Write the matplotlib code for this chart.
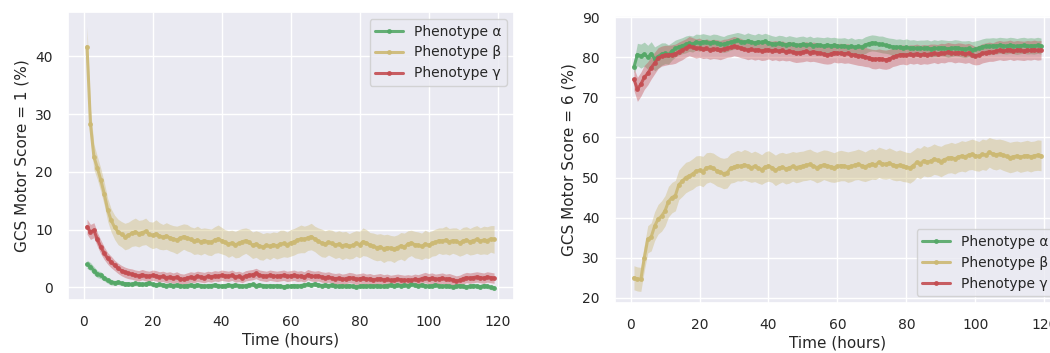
import numpy as np
import matplotlib
matplotlib.use('Agg')
import matplotlib.pyplot as plt
import seaborn as sns

hours = list(range(1, 120))
labels = ['Phenotype α', 'Phenotype β', 'Phenotype γ']
colors = ['#55a868', '#ccb974', '#c44e52']

# GCS motor score = 1, mean per hour
alpha_m1 = [4.0, 3.6, 2.9, 2.3, 2.1, 1.6, 1.2, 0.9, 0.8, 0.9, 0.7, 0.6,
            0.6, 0.5, 0.7, 0.6, 0.5, 0.6, 0.8, 0.5, 0.4, 0.5, 0.4, 0.3,
            0.4, 0.3, 0.4, 0.3, 0.2, 0.3, 0.4, 0.3, 0.4, 0.3, 0.2, 0.3,
            0.3, 0.4, 0.3, 0.2, 0.3, 0.4, 0.3, 0.4, 0.3, 0.2, 0.3, 0.4,
            0.5, 0.3, 0.4, 0.3, 0.2, 0.3, 0.2, 0.3, 0.2, 0.1, 0.2, 0.2,
            0.3, 0.2, 0.3, 0.4, 0.5, 0.4, 0.6, 0.4, 0.3, 0.4, 0.3, 0.4,
            0.3, 0.2, 0.3, 0.2, 0.3, 0.2, 0.1, 0.2, 0.3, 0.2, 0.3, 0.2,
            0.3, 0.2, 0.2, 0.3, 0.4, 0.3, 0.4, 0.3, 0.4, 0.3, 0.5, 0.4,
            0.3, 0.4, 0.3, 0.2, 0.3, 0.4, 0.3, 0.2, 0.3, 0.2, 0.1, 0.2,
            0.3, 0.2, 0.1, 0.2, 0.3, 0.2, 0.1, 0.3, 0.2, 0.0, -0.1]
beta_m1 = [41.7, 28.3, 22.6, 20.7, 18.6, 16.2, 13.4, 11.6, 10.4, 9.6, 9.2, 8.8,
           9.0, 9.4, 9.6, 9.3, 9.5, 9.7, 9.2, 9.0, 9.3, 8.9, 8.7, 8.9,
           8.6, 8.4, 8.2, 8.5, 8.8, 8.6, 8.3, 8.0, 8.2, 7.9, 8.1, 7.9,
           7.8, 8.2, 8.4, 8.1, 7.8, 7.5, 7.7, 7.4, 7.6, 7.9, 8.1, 7.8,
           7.3, 7.5, 7.2, 7.0, 7.3, 7.1, 7.4, 7.2, 7.5, 7.6, 7.4, 7.7,
           7.9, 8.2, 8.4, 8.3, 8.6, 8.8, 8.4, 8.0, 7.7, 7.5, 7.8, 7.6,
           7.3, 7.5, 7.2, 7.4, 7.1, 7.3, 7.6, 7.4, 7.9, 7.7, 7.3, 7.1,
           6.9, 7.0, 6.7, 6.9, 6.8, 6.6, 6.9, 7.2, 7.0, 7.5, 7.7, 7.4,
           7.3, 7.1, 7.5, 7.3, 7.6, 7.8, 8.1, 8.0, 8.2, 7.9, 8.1, 8.0,
           7.7, 8.0, 8.2, 7.9, 8.1, 8.3, 8.0, 8.2, 8.1, 8.4, 8.3]
gamma_m1 = [10.5, 9.6, 9.9, 8.3, 7.0, 5.9, 5.0, 4.4, 3.8, 3.3, 2.9, 2.6,
            2.4, 2.3, 2.1, 2.0, 2.2, 2.0, 1.9, 2.1, 2.0, 1.8, 1.9, 1.7,
            1.8, 1.6, 1.8, 1.5, 1.4, 1.6, 1.8, 1.7, 1.9, 1.8, 1.7, 1.9,
            1.8, 2.0, 1.9, 2.1, 2.0, 1.9, 2.1, 1.8, 1.9, 1.7, 2.0, 2.1,
            2.2, 2.4, 2.1, 2.0, 1.9, 2.1, 2.0, 1.9, 2.0, 2.1, 1.9, 2.0,
            2.1, 1.9, 2.0, 1.8, 2.2, 2.0, 1.9, 2.0, 1.8, 1.7, 1.8, 1.6,
            1.5, 1.6, 1.4, 1.5, 1.7, 1.6, 1.4, 1.5, 1.6, 1.4, 1.5, 1.3,
            1.4, 1.5, 1.3, 1.4, 1.2, 1.3, 1.4, 1.3, 1.2, 1.3, 1.2, 1.4,
            1.3, 1.5, 1.7, 1.5, 1.6, 1.4, 1.5, 1.6, 1.4, 1.5, 1.3, 1.1,
            1.2, 1.5, 1.7, 1.6, 1.7, 1.8, 1.7, 1.6, 1.8, 1.7, 1.6]

# half width of the shaded band, score = 1
alpha_e1 = [0.7, 0.7, 0.7, 0.6, 0.6, 0.5, 0.5, 0.5, 0.4, 0.4, 0.4, 0.4] + \
           [0.4, 0.4, 0.4, 0.4, 0.4, 0.4, 0.4, 0.4, 0.4, 0.4, 0.4, 0.4] * 8 + \
           [0.4, 0.4, 0.4, 0.4, 0.4, 0.4, 0.4, 0.4, 0.4, 0.4, 0.4]
beta_e1 = [3.5, 2.6, 2.2, 2.0, 2.0, 2.0, 2.0, 2.0, 2.1, 2.2, 2.2, 2.3] + \
          [2.3, 2.3, 2.4, 2.3, 2.2, 2.3, 2.2, 2.3, 2.4, 2.3, 2.2, 2.3] * 8 + \
          [2.3, 2.4, 2.3, 2.3, 2.4, 2.4, 2.3, 2.4, 2.4, 2.3, 2.4]
gamma_e1 = [1.3, 1.3, 1.3, 1.2, 1.2, 1.1, 1.0, 1.0, 0.9, 0.9, 0.9, 0.9] + \
           [0.9, 0.9, 0.9, 0.9, 0.9, 0.9, 0.9, 0.9, 0.9, 0.9, 0.9, 0.9] * 8 + \
           [0.9, 0.9, 0.9, 0.9, 0.9, 0.9, 0.9, 0.9, 0.9, 0.9, 0.9]

# GCS motor score = 6, mean per hour
alpha_m6 = [77.6, 80.7, 80.3, 80.8, 80.0, 80.9, 79.6, 80.2, 80.8, 81.0, 80.7, 81.5,
            82.2, 82.6, 82.9, 83.2, 83.5, 83.3, 83.8, 83.6, 83.9, 83.7, 83.5, 83.8,
            83.6, 83.4, 83.2, 83.5, 83.8, 84.0, 84.2, 83.9, 83.7, 84.1, 83.8, 83.6,
            83.9, 83.7, 84.0, 83.6, 83.4, 83.2, 83.5, 83.3, 83.1, 83.4, 83.2, 83.0,
            83.1, 83.3, 83.0, 83.2, 82.9, 83.1, 83.0, 82.8, 83.1, 82.9, 83.0, 82.8,
            82.7, 82.9, 82.6, 82.8, 82.5, 82.7, 82.6, 83.0, 83.4, 83.6, 83.5, 83.3,
            83.2, 83.0, 82.8, 82.6, 82.5, 82.6, 82.4, 82.5, 82.3, 82.4, 82.2, 82.3,
            82.2, 82.4, 82.1, 82.3, 82.2, 82.4, 82.3, 82.1, 82.2, 82.4, 82.3, 82.1,
            82.0, 82.2, 81.9, 82.0, 82.3, 82.6, 82.8, 82.7, 82.9, 82.8, 83.0, 82.9,
            82.8, 83.0, 82.9, 82.7, 82.9, 83.0, 82.8, 82.9, 82.8, 83.0, 82.8]
beta_m6 = [25.0, 24.7, 24.6, 30.0, 34.6, 35.2, 37.9, 39.6, 40.4, 41.7, 44.0, 45.0,
           45.5, 48.2, 49.1, 50.0, 50.4, 50.9, 51.6, 51.8, 51.5, 52.4, 52.6, 52.3,
           51.7, 51.3, 51.0, 51.2, 52.3, 52.6, 53.0, 52.8, 53.2, 52.9, 52.5, 52.8,
           52.4, 52.0, 52.6, 52.9, 52.5, 51.8, 52.3, 52.6, 52.2, 52.4, 52.8, 52.5,
           52.7, 52.9, 53.1, 53.3, 52.9, 52.5, 52.8, 53.2, 53.0, 52.7, 52.5, 52.8,
           53.0, 52.9, 52.6, 52.8, 53.1, 53.3, 53.0, 52.7, 53.1, 53.4, 53.2, 53.8,
           53.5, 53.3, 53.6, 53.2, 52.9, 53.1, 52.8, 52.6, 52.4, 53.0, 53.8, 53.5,
           54.2, 53.9, 54.1, 54.6, 54.3, 54.0, 54.5, 54.8, 55.0, 54.7, 55.1, 55.4,
           55.2, 55.6, 55.8, 55.5, 55.3, 55.8, 55.6, 56.3, 55.9, 55.7, 55.9, 55.6,
           55.3, 55.0, 55.2, 55.4, 55.1, 55.3, 55.5, 55.2, 55.4, 55.6, 55.5]
gamma_m6 = [74.5, 72.0, 73.3, 75.0, 76.0, 77.4, 78.6, 79.8, 80.3, 80.5, 80.6, 80.7,
            80.9, 81.4, 81.8, 82.3, 82.8, 82.5, 82.2, 82.4, 82.0, 82.2, 81.9, 82.1,
            82.0, 81.8, 82.1, 82.3, 82.5, 82.8, 82.6, 82.3, 82.0, 81.8, 82.0, 81.7,
            81.9, 81.6, 81.7, 81.9, 81.6, 81.8, 81.5, 81.7, 81.4, 81.6, 81.3, 81.1,
            81.2, 81.3, 81.5, 81.2, 81.4, 81.2, 81.0, 80.8, 80.6, 80.8, 81.2, 81.0,
            81.1, 80.9, 81.0, 80.7, 80.6, 80.4, 80.3, 80.1, 79.9, 79.6, 79.5, 79.7,
            79.5, 79.4, 79.6, 80.0, 80.3, 80.6, 80.7, 80.5, 80.8, 80.7, 80.9, 80.6,
            80.8, 80.7, 80.9, 81.0, 80.8, 81.1, 81.0, 81.3, 81.2, 81.0, 81.2, 81.1,
            80.9, 81.1, 80.7, 80.4, 80.6, 81.0, 81.2, 81.4, 81.3, 81.6, 81.8, 81.6,
            81.7, 81.9, 81.6, 81.8, 81.7, 81.6, 81.8, 81.7, 81.9, 81.7, 81.8]

# half width of the shaded band, score = 6
alpha_e6 = [1.5, 2.8, 3.0, 3.0, 3.0, 3.0, 3.0, 2.9, 2.8, 2.6, 2.4, 2.2] + \
           [2.1, 2.0, 2.0, 2.1, 2.0, 2.0, 2.0, 2.1, 2.0, 2.0, 2.0, 2.0] * 8 + \
           [2.0, 2.0, 2.0, 2.0, 2.0, 2.0, 2.0, 2.0, 2.0, 2.0, 2.0]
beta_e6 = [3.0, 3.0, 3.0, 3.2, 3.4, 3.5, 3.6, 3.7, 3.8, 3.8, 3.8, 3.8] + \
          [3.8, 3.7, 3.8, 3.8, 3.7, 3.8, 3.8, 3.7, 3.8, 3.8, 3.7, 3.8] * 8 + \
          [3.8, 3.8, 3.8, 3.7, 3.8, 3.8, 3.8, 3.8, 3.7, 3.8, 3.8]
gamma_e6 = [2.8, 3.0, 3.0, 3.0, 2.9, 2.8, 2.7, 2.6, 2.5, 2.5, 2.4, 2.4] + \
           [2.4, 2.4, 2.4, 2.3, 2.4, 2.4, 2.4, 2.4, 2.3, 2.4, 2.4, 2.4] * 8 + \
           [2.4, 2.4, 2.4, 2.4, 2.4, 2.4, 2.4, 2.4, 2.4, 2.4, 2.4]

sns.set_theme(style='darkgrid')
plt.rcParams['font.family'] = ['DejaVu Sans']

fig = plt.figure(figsize=(10.5, 3.53), dpi=100)
ax1 = fig.add_axes([0.0648, 0.150, 0.4248, 0.816])
ax2 = fig.add_axes([0.5857, 0.1416, 0.4248, 0.813])


def draw(ax, means, errs):
    x = np.array(hours)
    for m, e, c, lab in zip(means, errs, colors, labels):
        m = np.array(m)
        e = np.array(e)
        ax.fill_between(x, m - e, m + e, color=c, alpha=0.4, lw=0)
        ax.plot(x, m, color=c, lw=2.2, marker='.', ms=5, alpha=0.9, label=lab)
    ax.set_xlim(-4.5, 124.8)
    ax.set_xticks([0, 20, 40, 60, 80, 100, 120])
    ax.set_xlabel('Time (hours)', fontsize=11, labelpad=2)
    ax.tick_params(labelsize=10, pad=5)


draw(ax1, [alpha_m1, beta_m1, gamma_m1], [alpha_e1, beta_e1, gamma_e1])
ax1.set_ylim(-2.2, 47.7)
ax1.set_yticks([0, 10, 20, 30, 40])
ax1.set_ylabel('GCS Motor Score = 1 (%)', fontsize=11)
ax1.legend(loc='upper right', fontsize=10)

draw(ax2, [alpha_m6, beta_m6, gamma_m6], [alpha_e6, beta_e6, gamma_e6])
ax2.set_ylim(18.7, 90.3)
ax2.set_yticks([20, 30, 40, 50, 60, 70, 80, 90])
ax2.set_ylabel('GCS Motor Score = 6 (%)', fontsize=11)
ax2.legend(loc='lower right', fontsize=10)

fig.savefig('out.png', dpi=100)
